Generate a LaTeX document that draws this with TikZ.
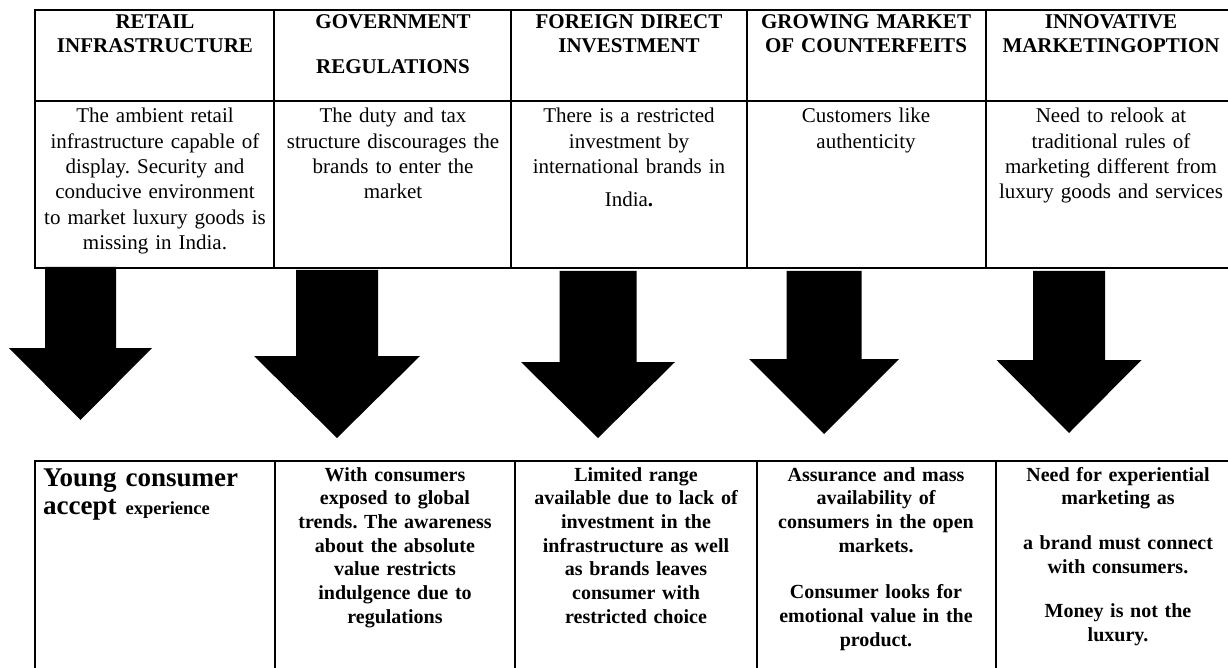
\documentclass[tikz,border=0pt]{standalone}
\usepackage{fontspec}
\setmainfont{Liberation Serif}
\usepackage{tikz}
\frenchspacing

\tikzset{
  grid/.style={line width=2.2pt, line cap=rect},
  head/.style={anchor=base, inner sep=0pt, text width=232pt, align=center, font=\fontsize{21}{24}\selectfont\bfseries},
  body/.style={anchor=base, inner sep=0pt, text width=234pt, align=center, font=\fontsize{21}{25.3}\selectfont},
  result/.style={anchor=base, inner sep=0pt, text width=234pt, align=center, font=\fontsize{20}{23.7}\selectfont\bfseries},
}

\begin{document}
\begin{tikzpicture}[x=1pt, y=-1pt]
    \useasboundingbox (0,0) rectangle (1228,668);
    \fill[white] (0,0) rectangle (1228,668);
    \clip (0,0) rectangle (1228,668);

    % upper table
    \draw[grid] (35,10) rectangle (1240,268);
    \draw[grid] (35,101) -- (1240,101);
    \foreach \c in {274,511,747,986}
        \draw[grid] (\c,10) -- (\c,268);

    \node[head] (h1) at (155,29)  {RETAIL\\INFRASTRUCTURE};
    \node[head] (h2) at (393,29)  {GOVERNMENT\\[21pt]REGULATIONS};
    \node[head] (h3) at (629,29)  {FOREIGN DIRECT\\INVESTMENT};
    \node[head] (h4) at (866,29)  {GROWING MARKET\\OF COUNTERFEITS};
    \node[head] (h5) at (1111,29) {INNOVATIVE\\MARKETINGOPTION};

    \node[body] (d1) at (155,123)  {The ambient retail\\infrastructure capable of\\display. Security and\\conducive environment\\to market luxury goods is\\missing in India.};
    \node[body] (d2) at (393,123)  {The duty and tax\\structure discourages the\\brands to enter the\\market};
    \node[body] (d3) at (629,123)  {There is a restricted\\investment by\\international brands in\\[8pt]India\textbf{.}};
    \node[body] (d4) at (866,123)  {Customers like\\authenticity};
    \node[body] (d5) at (1111,123) {Need to relook at\\traditional rules of\\marketing different from\\luxury goods and services};

    % block arrows
    \foreach \x/\t/\s/\h/\m/\b in {80.5/267/35.5/71.5/348/420, 337/270/41/83/356/438, 598/271/38.5/77/362/438, 824/271/37.5/75/359/434, 1069/271/36/72.5/360/433}
        \fill (\x-\s,\t) -- (\x+\s,\t) -- (\x+\s,\m) -- (\x+\h,\m) -- (\x,\b) -- (\x-\h,\m) -- (\x-\s,\m) -- cycle;

    % lower table
    \draw[grid] (35,700) -- (35,461) -- (1240,461);
    \foreach \c in {275,515,757,996}
        \draw[grid] (\c,461) -- (\c,700);

    \node[anchor=base west, inner sep=0pt, text width=225pt, align=left, font=\fontsize{27}{28}\selectfont\bfseries] (r1) at (43,486) {Young consumer\\accept {\fontsize{18.5}{28}\selectfont experience}};
    \node[result] (r2) at (395,481)  {With consumers\\exposed to global\\trends. The awareness\\about the absolute\\value restricts\\indulgence due to\\regulations};
    \node[result] (r3) at (636,481)  {Limited range\\available due to lack of\\investment in the\\infrastructure as well\\as brands leaves\\consumer with\\restricted choice};
    \node[result] (r4) at (876,481)  {Assurance and mass\\availability of\\consumers in the open\\markets.\\[23pt]Consumer looks for\\emotional value in the\\product.};
    \node[result] (r5) at (1118,481) {Need for experiential\\marketing as\\[21pt]a brand must connect\\with consumers.\\[21pt]Money is not the\\luxury.};
\end{tikzpicture}
\end{document}
